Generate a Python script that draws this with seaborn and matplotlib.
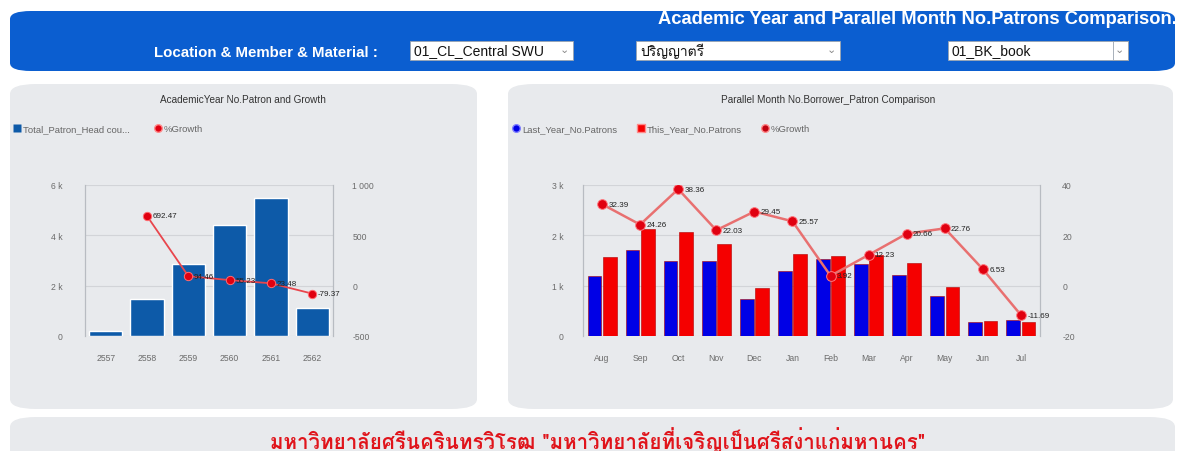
import numpy as np
import pandas as pd
import matplotlib
matplotlib.use("Agg")
import matplotlib.pyplot as plt
import seaborn as sns
from matplotlib.patches import FancyBboxPatch, Rectangle
from matplotlib.lines import Line2D
from matplotlib.ticker import FuncFormatter, FixedLocator
from matplotlib import font_manager as fm

# ---------------- data ----------------
years = ["2557", "2558", "2559", "2560", "2561", "2562"]
total_patrons = [185, 1467, 2853, 4430, 5470, 1128]
year_growth = [np.nan, 692.47, 94.46, 55.23, 23.48, -79.37]

months = ["Aug", "Sep", "Oct", "Nov", "Dec", "Jan", "Feb", "Mar", "Apr", "May", "Jun", "Jul"]
last_year = [1190, 1710, 1490, 1490, 740, 1290, 1530, 1430, 1210, 790, 280, 320]
this_year = [1575, 2125, 2062, 1818, 958, 1620, 1590, 1605, 1460, 970, 298, 283]
month_growth = [32.39, 24.26, 38.36, 22.03, 29.45, 25.57, 3.92, 12.23, 20.66, 22.76, 6.53, -11.69]

main_title = "Academic Year and Parallel Month No.Patrons Comparison."
filter_label = "Location & Member & Material :"
filter_values = ["01_CL_Central SWU", "ปริญญาตรี", "01_BK_book"]
left_title = "AcademicYear No.Patron and Growth"
right_title = "Parallel Month No.Borrower_Patron Comparison"
left_legend = ["Total_Patron_Head cou...", "%Growth"]
right_legend = ["Last_Year_No.Patrons", "This_Year_No.Patrons", "%Growth"]
footer = 'มหาวิทยาลัยศรีนครินทรวิโรฒ "มหาวิทยาลัยที่เจริญเป็นศรีสง่าแก่มหานคร"'

# ---------------- fonts ----------------
sns.set_theme(style="white")
base = "Liberation Sans"


def find_font(ch):
    for f in fm.fontManager.ttflist:
        try:
            ft = fm.get_font(f.fname)
            if ord(ch) in ft.get_charmap():
                return f.name
        except Exception:
            pass
    return None


thai = find_font("ม")
fam = [base, "DejaVu Sans"] + ([thai] if thai else [])
thai_fam = ([thai] if thai else []) + [base, "DejaVu Sans"]
plt.rcParams["font.family"] = fam
plt.rcParams["axes.unicode_minus"] = False

W, H = 1184, 452
fig = plt.figure(figsize=(W / 100, H / 100), dpi=100)
fig.patch.set_facecolor("white")


def fx(x):
    return x / W


def fy(y):
    return 1 - y / H


def frect(x0, y0, x1, y1, color, pad=6, z=-10):
    p = FancyBboxPatch((fx(x0), fy(y1)), fx(x1 - x0), (y1 - y0) / H,
                       boxstyle=f"round,pad=0,rounding_size={pad / H}",
                       transform=fig.transFigure, facecolor=color,
                       edgecolor="none", zorder=z)
    fig.patches.append(p)


panel = "#e8eaed"
banner = "#0b5ed0"
# banner
frect(10, 12, 1175, 72, banner, pad=8)
fig.text(fx(1177), fy(20), main_title, color="white", fontsize=13.2,
         fontweight="bold", ha="right", va="center")
fig.text(fx(378), fy(53), filter_label, color="white", fontsize=10.8,
         fontweight="bold", ha="right", va="center")
boxes = [(410, 573), (636, 840), (948, 1128)]
for (x0, x1), val in zip(boxes, filter_values):
    fig.patches.append(Rectangle((fx(x0), fy(61)), fx(x1 - x0), 19 / H,
                                 transform=fig.transFigure, facecolor="white",
                                 edgecolor="#9aa4b0", lw=0.6, zorder=-5))
    fig.text(fx(x0 + 4), fy(51.5), val, fontsize=10, color="#111111",
             ha="left", va="center", family=thai_fam if val == filter_values[1] else fam)
    fig.text(fx(x1 - 9), fy(50), "⌄", fontsize=8, color="#888888",
             ha="center", va="center", family=["DejaVu Sans"])
fig.patches.append(Rectangle((fx(1113), fy(61)), fx(15), 19 / H,
                             transform=fig.transFigure, facecolor="none",
                             edgecolor="#9aa4b0", lw=0.6, zorder=-4))

# panels
frect(10, 85, 477, 410, panel, pad=10)
frect(508, 85, 1173, 410, panel, pad=10)
frect(10, 418, 1175, 470, panel, pad=10)
fig.text(fx(598), fy(440), footer, color="#e0141b", fontsize=14.8,
         fontweight="bold", ha="center", va="center", family=thai_fam)

tick_c = "#6b6b6b"
grid_c = "#d2d4d8"


def kfmt(v, _):
    return "0" if v == 0 else f"{int(v / 1000)} k"


def style_axes(ax):
    ax.set_facecolor("none")
    for s in ["top", "bottom"]:
        ax.spines[s].set_visible(False)
    for s in ["left", "right"]:
        ax.spines[s].set_color("#b8bcc2")
        ax.spines[s].set_linewidth(0.8)
    ax.tick_params(axis="both", length=0, labelsize=6.2, colors=tick_c, pad=14)
    ax.set_xlabel("")
    ax.set_ylabel("")


# ---------------- left chart ----------------
axL = fig.add_axes([fx(85), fy(337), fx(333 - 85), (337 - 186) / H])
dfL = pd.DataFrame({"year": years, "patrons": total_patrons, "growth": year_growth})
sns.barplot(data=dfL, x="year", y="patrons", color="#0d5aa8", saturation=1,
            width=0.8, ax=axL, zorder=2)
axL.set_ylim(0, 6000)
axL.yaxis.set_major_locator(FixedLocator([0, 2000, 4000, 6000]))
axL.yaxis.set_major_formatter(FuncFormatter(kfmt))
axL.grid(axis="y", color=grid_c, lw=0.8, zorder=0)
axL.set_axisbelow(True)
style_axes(axL)
axL.tick_params(axis="y", pad=16)
axL.tick_params(axis="x", pad=12)
axL2 = axL.twinx()
xs = np.arange(len(years))
sns.lineplot(x=xs, y=year_growth, ax=axL2, color="#e8464d", lw=1.3,
             marker="o", markersize=6, markerfacecolor="#e00010",
             markeredgecolor="#ff6a70", markeredgewidth=0.7, zorder=3)
axL2.set_ylim(-500, 1000)
axL2.yaxis.set_major_locator(FixedLocator([-500, 0, 500, 1000]))
axL2.yaxis.set_major_formatter(FuncFormatter(lambda v, _: "1 000" if v == 1000 else f"{int(v)}"))
style_axes(axL2)
axL2.tick_params(axis="y", pad=14)
axL2.set_xlim(-0.5, len(years) - 0.5)
for x, g in zip(xs, year_growth):
    if not np.isnan(g):
        axL2.annotate(f"{g:.2f}", (x, g), xytext=(4, 0), textcoords="offset points",
                      fontsize=5.8, color="#222222", va="center", ha="left", zorder=4)
fig.text(fx(243), fy(100), left_title, fontsize=7.2, color="#333333", ha="center", va="center")
hL = [Line2D([], [], marker="s", color="none", markerfacecolor="#0d5aa8",
             markeredgecolor="none", markersize=5.5),
      Line2D([], [], marker="o", color="none", markerfacecolor="#e00010",
             markeredgecolor="#ff8a8a", markersize=5.5)]
fig.legend(hL, left_legend, loc="center left", bbox_to_anchor=(fx(4), fy(130)),
           ncol=2, frameon=False, fontsize=6.8, labelcolor="#666666",
           handletextpad=0.1, columnspacing=2.5, handlelength=1.0)

# ---------------- right chart ----------------
axR = fig.add_axes([fx(583), fy(337), fx(1040 - 583), (337 - 186) / H])
dfR = pd.DataFrame({
    "month": months * 2,
    "value": last_year + this_year,
    "series": [right_legend[0]] * len(months) + [right_legend[1]] * len(months),
})
sns.barplot(data=dfR, x="month", y="value", hue="series", order=months,
            palette=["#0000e6", "#f50000"], saturation=1, width=0.8, gap=0.1,
            edgecolor="#b00000", linewidth=0.4, ax=axR, legend=False, zorder=2)
axR.set_ylim(0, 3000)
axR.yaxis.set_major_locator(FixedLocator([0, 1000, 2000, 3000]))
axR.yaxis.set_major_formatter(FuncFormatter(kfmt))
axR.grid(axis="y", color=grid_c, lw=0.8, zorder=0)
axR.set_axisbelow(True)
style_axes(axR)
axR.tick_params(axis="y", pad=14)
axR.tick_params(axis="x", pad=12)
axR2 = axR.twinx()
xm = np.arange(len(months))
sns.lineplot(x=xm, y=month_growth, ax=axR2, color="#e87070", lw=1.8,
             marker="o", markersize=7, markerfacecolor="#e00010",
             markeredgecolor="#ff7a80", markeredgewidth=0.7, zorder=3)
axR2.set_ylim(-20, 40)
axR2.yaxis.set_major_locator(FixedLocator([-20, 0, 20, 40]))
axR2.yaxis.set_major_formatter(FuncFormatter(lambda v, _: f"{int(v)}"))
style_axes(axR2)
axR2.tick_params(axis="y", pad=16)
axR2.set_xlim(-0.5, len(months) - 0.5)
for x, g in zip(xm, month_growth):
    axR2.annotate(f"{g:.2f}", (x, g), xytext=(4.5, 0), textcoords="offset points",
                  fontsize=5.8, color="#222222", va="center", ha="left", zorder=4)
fig.text(fx(828), fy(100), right_title, fontsize=7.2, color="#333333", ha="center", va="center")
hR = [Line2D([], [], marker="o", color="none", markerfacecolor="#0000e6",
             markeredgecolor="#8080ff", markersize=5.5),
      Line2D([], [], marker="s", color="none", markerfacecolor="#f50000",
             markeredgecolor="#ff8a8a", markersize=5.5),
      Line2D([], [], marker="o", color="none", markerfacecolor="#c00010",
             markeredgecolor="#ff8a8a", markersize=5.5)]
fig.legend(hR, right_legend, loc="center left", bbox_to_anchor=(fx(503), fy(130)),
           ncol=3, frameon=False, fontsize=6.8, labelcolor="#666666",
           handletextpad=0.1, columnspacing=2.0, handlelength=1.0)

fig.savefig("out.png", dpi=100, facecolor="white")
